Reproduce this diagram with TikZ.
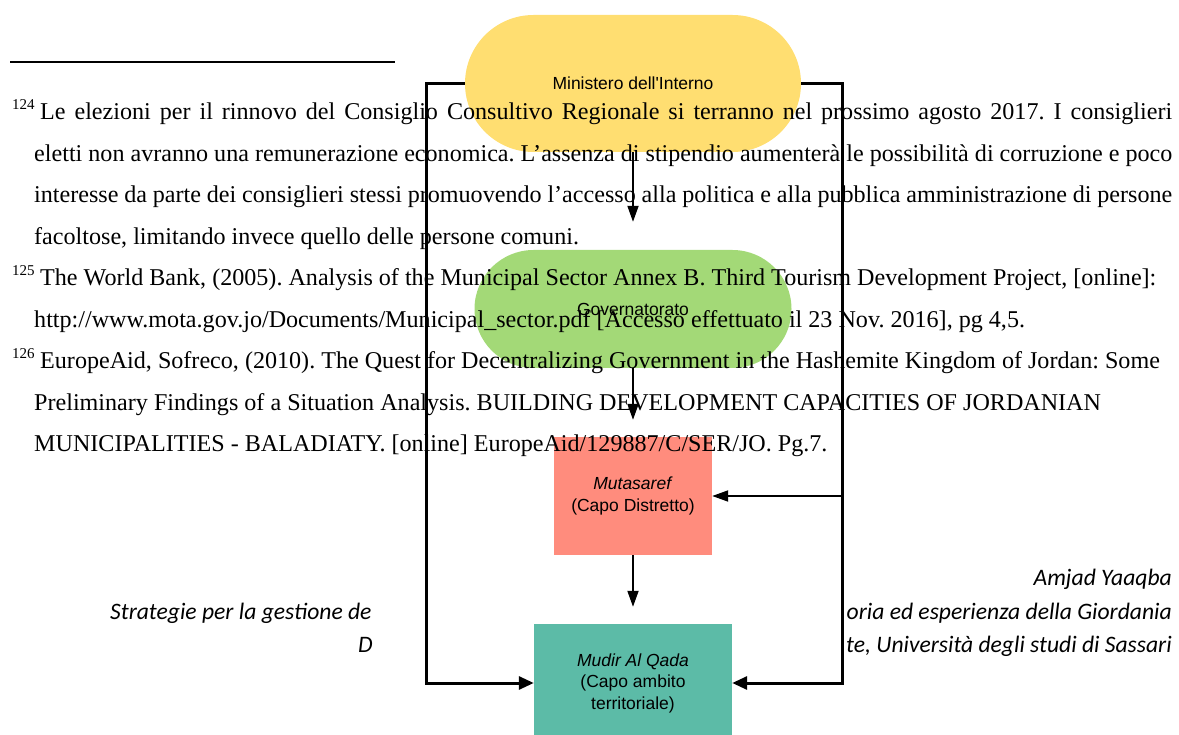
\documentclass[tikz,border=0pt]{standalone}
\usepackage{fontspec}
\setmainfont{Liberation Serif}
\newfontfamily\diagfont[Ligatures=TeXOff]{Liberation Sans}
\newfontfamily\footfont{Carlito}
\usetikzlibrary{arrows.meta}
\definecolor{cyellow}{RGB}{255,222,113}
\definecolor{cgreen}{RGB}{163,217,119}
\definecolor{csalmon}{RGB}{255,140,125}
\definecolor{cteal}{RGB}{92,187,167}
\frenchspacing
\tikzset{
  fnline/.style={anchor=base west, inner sep=0pt, font=\fontsize{24.1}{28}\selectfont},
  fnsup/.style={anchor=base west, inner sep=0pt, font=\fontsize{15}{15}\selectfont},
  footline/.style={inner sep=0pt, font=\footfont\itshape\fontsize{23.6}{28}\selectfont},
  shapebox/.style={draw=none, inner sep=2pt, align=center, text=black,
    font=\diagfont\fontsize{17.5}{21.5}\selectfont},
  outerline/.style={line width=3pt, line join=miter, -{Triangle[length=15pt,width=13pt]}},
  innerline/.style={line width=1.8pt, -{Triangle[length=16pt,width=11pt]}}
}
\begin{document}
\begin{tikzpicture}[x=1pt,y=-1pt]
\useasboundingbox (0,0) rectangle (1179,735);
\clip (0,0) rectangle (1179,735);
% footer text (behind the diagram)
\node[footline, anchor=base east] (fa) at (1172,585) {Amjad Yaaqba};
\begin{scope}
  \clip (0,560) rectangle (372,700);
  \node[footline, anchor=base west] (fb) at (110,619) {Strategie per la gestione de};
  \node[footline, anchor=base west] (fc) at (358,652) {D};
\end{scope}
\begin{scope}
  \clip (846,560) rectangle (1179,700);
  \node[footline, anchor=base east] (fd) at (1172,619) {oria ed esperienza della Giordania};
  \node[footline, anchor=base east] (fe) at (1172,652) {te, Università degli studi di Sassari};
\end{scope}
% diagram shapes
\node[shapebox, fill=cyellow, minimum width=336pt, minimum height=137pt, rounded corners=68.5pt] (min) at (633,83.5) {Ministero dell'Interno};
\node[shapebox, fill=cgreen, minimum width=317pt, minimum height=118pt, rounded corners=59pt] (gov) at (633,309) {Governatorato};
\node[shapebox, fill=csalmon, minimum width=158pt, minimum height=118pt] (mut) at (633,496) {\textit{Mutasaref}\\(Capo Distretto)};
\node[shapebox, fill=cteal, minimum width=198pt, minimum height=118pt] (mud) at (633,683) {\textit{Mudir Al Qada}\\(Capo ambito\\territoriale)};
% footnote rule and text
\draw[line width=1.5pt] (10,62) -- (395,62);
\node[fnsup] (s124) at (12,110) {124};
\node[fnline] (l1) at (40,120) {\makebox[1132pt][s]{Le elezioni per il rinnovo del Consiglio Consultivo Regionale si terranno nel prossimo agosto 2017. I consiglieri}};
\node[fnline] (l2) at (34,161.5) {\makebox[1138pt][s]{eletti non avranno una remunerazione economica. L’assenza di stipendio aumenterà le possibilità di corruzione e poco}};
\node[fnline] (l3) at (34,203) {\makebox[1138pt][s]{interesse da parte dei consiglieri stessi promuovendo l’accesso alla politica e alla pubblica amministrazione di persone}};
\node[fnline] (l4) at (34,244.5) {facoltose, limitando invece quello delle persone comuni.};
\node[fnsup] (s125) at (12,276) {125};
\node[fnline] (l5) at (40,286) {The World Bank, (2005). Analysis of the Municipal Sector Annex B. Third Tourism Development Project, [online]:};
\node[fnline] (l6) at (34,327.5) {http://www.mota.gov.jo/Documents/Municipal\_sector.pdf [Accesso effettuato il 23 Nov. 2016], pg 4,5.};
\node[fnsup] (s126) at (12,359) {126};
\node[fnline] (l7) at (40,369) {EuropeAid, Sofreco, (2010). The Quest for Decentralizing Government in the Hashemite Kingdom of Jordan: Some};
\node[fnline] (l8) at (34,410.5) {Preliminary Findings of a Situation Analysis. BUILDING DEVELOPMENT CAPACITIES OF JORDANIAN};
\node[fnline] (l9) at (34,452) {MUNICIPALITIES - BALADIATY. [online] EuropeAid/129887/C/SER/JO. Pg.7.};
% connectors
\coordinate (L) at (426,83.5);
\coordinate (R) at (842,83.5);
\draw[outerline] (min.west) -- (L) |- (mud.west);
\draw[outerline] (min.east) -- (R) |- (mud.east);
\draw[innerline] (R |- mut.east) -- (mut.east);
\draw[innerline, shorten >=28pt] (min.south) -- (gov.north);
\draw[innerline, shorten >=17pt] (gov.south) -- (mut.north);
\draw[innerline, shorten >=17pt] (mut.south) -- (mud.north);
\end{tikzpicture}
\end{document}
